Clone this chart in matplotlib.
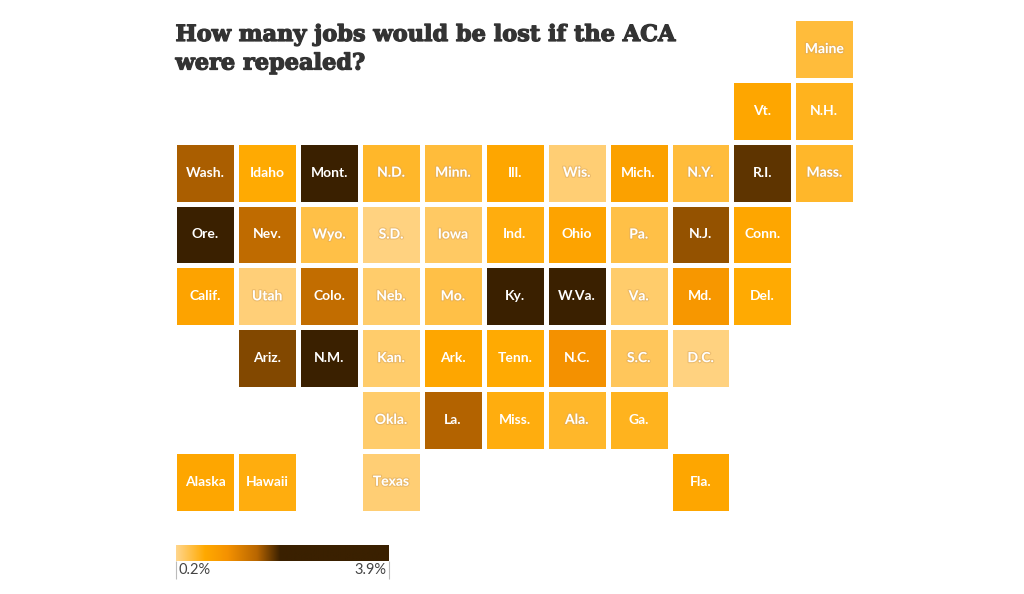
import numpy as np
import matplotlib.pyplot as plt
import matplotlib.patheffects as pe
from matplotlib.colors import LinearSegmentedColormap, Normalize

# tile grid map, one list per row
state_rows = [
    [None, None, None, None, None, None, None, None, None, None, 'Maine'],
    [None, None, None, None, None, None, None, None, None, 'Vt.', 'N.H.'],
    ['Wash.', 'Idaho', 'Mont.', 'N.D.', 'Minn.', 'Ill.', 'Wis.', 'Mich.', 'N.Y.', 'R.I.', 'Mass.'],
    ['Ore.', 'Nev.', 'Wyo.', 'S.D.', 'Iowa', 'Ind.', 'Ohio', 'Pa.', 'N.J.', 'Conn.', None],
    ['Calif.', 'Utah', 'Colo.', 'Neb.', 'Mo.', 'Ky.', 'W.Va.', 'Va.', 'Md.', 'Del.', None],
    [None, 'Ariz.', 'N.M.', 'Kan.', 'Ark.', 'Tenn.', 'N.C.', 'S.C.', 'D.C.', None, None],
    [None, None, None, 'Okla.', 'La.', 'Miss.', 'Ala.', 'Ga.', None, None, None],
    ['Alaska', 'Hawaii', None, 'Texas', None, None, None, None, 'Fla.', None, None],
]

# share of jobs lost, estimated from the tile colours
value_rows = [
    [np.nan] * 10 + [0.5],
    [np.nan] * 9 + [0.75, 0.6],
    [1.65, 0.7, 2.6, 0.55, 0.5, 0.75, 0.3, 0.85, 0.5, 1.9, 0.55],
    [2.3, 1.55, 0.45, 0.25, 0.35, 0.65, 0.8, 0.45, 1.72, 0.75, np.nan],
    [0.8, 0.28, 1.52, 0.32, 0.45, 2.8, 3.0, 0.33, 1.0, 0.7, np.nan],
    [np.nan, 1.78, 2.4, 0.33, 0.75, 0.7, 1.1, 0.38, 0.25, np.nan, np.nan],
    [np.nan, np.nan, np.nan, 0.33, 1.62, 0.65, 0.55, 0.6, np.nan, np.nan, np.nan],
    [0.75, 0.65, np.nan, 0.3, np.nan, np.nan, np.nan, np.nan, 0.75, np.nan, np.nan],
]

vmin = 0.2
vmax = 3.9
cmap = LinearSegmentedColormap.from_list('jobs', [
    (0.0, '#FFD68C'),
    (0.135, '#FFA900'),
    (0.24, '#F59200'),
    (0.38, '#B86600'),
    (0.49, '#3A2000'),
    (1.0, '#3A2000'),
])
norm = Normalize(vmin, vmax)

W, H = 1024, 594
fig = plt.figure(figsize=(W / 100, H / 100), dpi=100)
plt.rcParams['font.family'] = ['Lato', 'DejaVu Sans']

# map
ax = fig.add_axes([174.3 / W, 1 - 512.6 / H, 681 / W, 494.4 / H])
values = np.ma.masked_invalid(np.array(value_rows))
ax.pcolormesh(values, cmap=cmap, norm=norm, edgecolors='white', linewidth=2.3)
ax.set_ylim(len(state_rows), 0)
ax.axis('off')

for r, row in enumerate(state_rows):
    for c, name in enumerate(row):
        if name is None:
            continue
        t = ax.text(c + 0.5, r + 0.5, name, color='white', fontsize=10,
                    fontweight='bold', ha='center', va='center')
        if value_rows[r][c] < 0.6:
            t.set_path_effects([pe.withStroke(linewidth=1.6, foreground='#d9a860', alpha=0.5)])

# title, no slab font here so thicken the serif one
title_fx = [pe.withStroke(linewidth=0.9, foreground='#333333')]
fig.text(175.5 / W, 1 - 35 / H, 'How many jobs would be lost if the ACA', family='DejaVu Serif',
         fontweight='bold', fontsize=16.15, color='#333333', va='center', path_effects=title_fx)
fig.text(175.5 / W, 1 - 63.5 / H, 'were repealed?', family='DejaVu Serif',
         fontweight='bold', fontsize=16.15, color='#333333', va='center', path_effects=title_fx)

# legend bar
lax = fig.add_axes([176 / W, 1 - 561 / H, 212.5 / W, 16 / H])
lax.imshow(np.linspace(vmin, vmax, 256)[None, :], cmap=cmap, norm=norm, aspect='auto',
           extent=[vmin, vmax, 0, 1])
lax.set_yticks([])
lax.set_xticks([vmin, vmax])
lax.set_xticklabels([])
lax.tick_params(axis='x', length=13, width=0.8, color='#bbbbbb')
for s in lax.spines.values():
    s.set_visible(False)
lax.text(0.012, -0.58, '0.2%', transform=lax.transAxes, fontsize=10.5, color='#444444', va='center')
lax.text(0.988, -0.58, '3.9%', transform=lax.transAxes, fontsize=10.5, color='#444444',
         va='center', ha='right')

fig.savefig('out.png', dpi=100)
